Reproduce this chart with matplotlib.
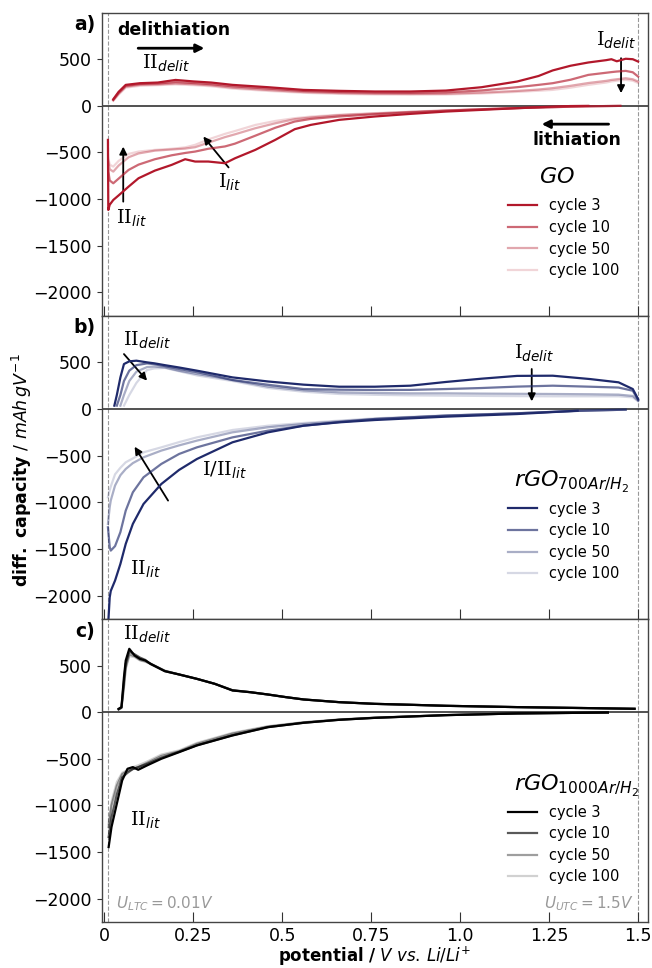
import numpy as np
import matplotlib
matplotlib.use("Agg")
import matplotlib.pyplot as plt

plt.rcParams['font.family'] = ['DejaVu Sans']
plt.rcParams['mathtext.fontset'] = 'custom'
plt.rcParams['mathtext.rm'] = 'DejaVu Sans'
plt.rcParams['mathtext.it'] = 'DejaVu Sans:italic'
plt.rcParams['mathtext.bf'] = 'DejaVu Sans:bold'
plt.rcParams['mathtext.sf'] = 'DejaVu Serif'

nan = np.nan
cycles = ["cycle 3", "cycle 10", "cycle 50", "cycle 100"]
alphas = [1.0, 0.65, 0.38, 0.18]

# ---------------- Panel a: GO ----------------
go_delit_x = [0.025, 0.04, 0.06, 0.10, 0.15, 0.20, 0.25, 0.30, 0.36, 0.46, 0.56, 0.66, 0.76, 0.86,
              0.96, 1.06, 1.16, 1.22, 1.26, 1.31, 1.36, 1.41, 1.425, 1.44, 1.465, 1.485, 1.50]
go_delit_c3 = [71, 150, 225, 243, 250, 278, 262, 250, 225, 200, 171, 161, 154, 154,
               164, 200, 261, 320, 380, 430, 465, 490, 500, 478, 505, 500, 475]
go_delit_c10 = [65, 140, 215, 235, 240, 255, 245, 232, 210, 185, 160, 148, 142, 140,
                145, 165, 200, 225, 243, 280, 332, 355, 362, 368, 375, 360, 314]
go_delit_c50 = [60, 130, 205, 225, 230, 240, 232, 220, 195, 170, 148, 137, 130, 128,
                130, 142, 160, 175, 190, 215, 245, 268, 278, 285, 296, 285, 260]
go_delit_c100 = [55, 120, 195, 215, 222, 230, 222, 210, 185, 160, 140, 128, 122, 120,
                 122, 132, 150, 162, 171, 195, 225, 250, 262, 270, 278, 270, 245]

go_lit_x = [0.010, 0.011, 0.015, 0.025, 0.04, 0.068, 0.096, 0.142, 0.189, 0.227, 0.255, 0.292, 0.339,
            0.367, 0.424, 0.48, 0.535, 0.58, 0.66, 0.76, 0.86, 0.96, 1.06, 1.16, 1.26, 1.31, 1.36, 1.45]
go_lit_c3 = [-365, -1116, -1060, -1009, -960, -866, -776, -694, -633, -572, -597, -597, -615,
             -562, -472, -365, -250, -204, -150, -114, -86, -61, -43, -25, -8, -2, 0, nan]
go_lit_c10 = [nan, -700, -800, -830, -780, -687, -630, -572, -530, -505, -490, -460, -435,
              -405, -320, -235, -168, -140, -114, -90, -70, -52, -37, -24, -14, -9, -5, 0]
go_lit_c50 = [nan, -600, -680, -705, -640, -551, -510, -480, -468, -458, -443, -395, -335,
              -305, -240, -187, -143, -125, -100, -82, -65, -50, -36, -24, -14, -9, -5, 0]
go_lit_c100 = [nan, -560, -630, -651, -590, -515, -490, -472, -460, -445, -418, -360, -300,
               -270, -205, -162, -132, -115, -95, -78, -62, -48, -35, -23, -13, -8, -4, 0]

# ---------------- Panel b: rGO 700 Ar/H2 ----------------
r7_delit_x = [0.028, 0.035, 0.045, 0.055, 0.07, 0.09, 0.12, 0.14, 0.17, 0.21, 0.26, 0.31, 0.36,
              0.46, 0.56, 0.66, 0.76, 0.86, 0.96, 1.06, 1.16, 1.26, 1.365, 1.445, 1.485, 1.50]
r7_delit_c3 = [36, 150, 339, 482, 511, 518, 500, 490, 470, 445, 411, 375, 339,
               295, 261, 239, 239, 250, 290, 325, 355, 357, 321, 286, 214, 107]
r7_delit_c10 = [nan, 36, 150, 300, 411, 470, 489, 480, 460, 430, 395, 355, 311,
                260, 214, 207, 204, 205, 214, 225, 240, 250, 239, 230, 196, 96]
r7_delit_c50 = [nan, nan, 36, 150, 300, 400, 450, 455, 445, 410, 375, 345, 310,
                240, 200, 179, 172, 168, 168, 165, 163, 161, 158, 154, 140, 89]
r7_delit_c100 = [nan, nan, nan, 36, 150, 280, 418, 435, 440, 405, 360, 330, 300,
                 225, 185, 161, 152, 146, 143, 140, 138, 136, 136, 136, 125, 82]

r7_lit_x = [0.010, 0.015, 0.018, 0.03, 0.045, 0.06, 0.08, 0.11, 0.16, 0.21, 0.26, 0.36, 0.46,
            0.56, 0.66, 0.76, 0.96, 1.16, 1.33, 1.465]
r7_lit_c3 = [-2350, -2018, -1950, -1839, -1661, -1446, -1232, -1018, -804, -653, -536, -357, -250,
             -179, -143, -118, -82, -54, -18, nan]
r7_lit_c10 = [-1268, -1480, -1518, -1470, -1320, -1089, -893, -732, -589, -482, -411, -304, -232,
              -179, -140, -107, -71, -46, -20, -7]
r7_lit_c50 = [-1232, -1050, -980, -820, -710, -643, -580, -518, -446, -390, -339, -250, -196,
              -161, -132, -107, -71, -46, -20, -7]
r7_lit_c100 = [-946, -870, -830, -700, -630, -571, -530, -464, -411, -355, -304, -225, -179,
               -150, -125, -100, -68, -44, -20, -7]

# ---------------- Panel c: rGO 1000 Ar/H2 ----------------
r10_delit_x = [0.04, 0.048, 0.055, 0.06, 0.07, 0.085, 0.10, 0.115, 0.13, 0.17, 0.21, 0.26, 0.31,
               0.36, 0.41, 0.46, 0.51, 0.56, 0.66, 0.76, 0.86, 0.96, 1.16, 1.365, 1.49]
r10_delit_c3 = [36, 54, 375, 554, 679, 607, 571, 554, 518, 439, 404, 357, 304,
                232, 214, 189, 161, 136, 107, 89, 79, 68, 54, 43, 36]
r10_delit_c10 = [30, 50, 330, 520, 650, 620, 585, 560, 515, 440, 404, 357, 304,
                 235, 214, 189, 161, 136, 107, 89, 79, 68, 54, 43, 36]
r10_delit_c50 = [30, 45, 280, 480, 620, 600, 560, 545, 520, 445, 404, 357, 304,
                 235, 214, 189, 161, 136, 107, 89, 79, 68, 54, 43, 36]
r10_delit_c100 = [30, 45, 260, 460, 600, 590, 555, 540, 515, 440, 404, 357, 304,
                  235, 214, 189, 161, 136, 107, 89, 79, 68, 54, 43, 36]

r10_lit_x = [0.012, 0.02, 0.035, 0.05, 0.065, 0.08, 0.095, 0.12, 0.16, 0.21, 0.26, 0.36, 0.46,
             0.56, 0.66, 0.76, 0.96, 1.16, 1.415]
r10_lit_c3 = [-1446, -1232, -982, -732, -607, -589, -618, -571, -500, -429, -357, -250, -161,
              -114, -82, -61, -32, -14, -4]
r10_lit_c10 = [-1339, -1130, -880, -700, -650, -610, -590, -555, -490, -425, -355, -248, -160,
               -114, -82, -61, -32, -14, -4]
r10_lit_c50 = [-1232, -1000, -790, -665, -630, -610, -590, -545, -470, -420, -340, -230, -155,
               -110, -80, -60, -32, -14, -4]
r10_lit_c100 = [-1196, -960, -750, -650, -620, -590, -570, -530, -455, -410, -330, -222, -150,
                -108, -78, -58, -31, -14, -4]

x_ticks = [0, 0.25, 0.5, 0.75, 1.0, 1.25, 1.5]
x_ticklabels = ["0", "0.25", "0.5", "0.75", "1.0", "1.25", "1.5"]
y_ticks = [500, 0, -500, -1000, -1500, -2000]

panels = [
    dict(tag="a)", color="#b2182b", title=r"$GO$",
         dx=go_delit_x, dy=[go_delit_c3, go_delit_c10, go_delit_c50, go_delit_c100],
         lx=go_lit_x, ly=[go_lit_c3, go_lit_c10, go_lit_c50, go_lit_c100]),
    dict(tag="b)", color="#1f2a6b", title=r"$rGO_{700Ar/H_2}$",
         dx=r7_delit_x, dy=[r7_delit_c3, r7_delit_c10, r7_delit_c50, r7_delit_c100],
         lx=r7_lit_x, ly=[r7_lit_c3, r7_lit_c10, r7_lit_c50, r7_lit_c100]),
    dict(tag="c)", color="#000000", title=r"$rGO_{1000Ar/H_2}$",
         dx=r10_delit_x, dy=[r10_delit_c3, r10_delit_c10, r10_delit_c50, r10_delit_c100],
         lx=r10_lit_x, ly=[r10_lit_c3, r10_lit_c10, r10_lit_c50, r10_lit_c100]),
]

fig = plt.figure(figsize=(6.52, 9.68), dpi=100)
axes = fig.subplots(3, 1, sharex=True, gridspec_kw=dict(hspace=0))
fig.subplots_adjust(left=0.156, right=0.994, top=0.987, bottom=0.0475)

ann_fs = 14
arrow_kw = dict(arrowstyle='-|>', color='k', lw=1.3, mutation_scale=11, shrinkA=0, shrinkB=0)

for ax, p in zip(axes, panels):
    handles = []
    for i in range(4):
        h, = ax.plot(p["dx"], np.array(p["dy"][i], dtype=float), color=p["color"],
                     alpha=alphas[i], lw=1.6, label=cycles[i], zorder=5 - i)
        ax.plot(p["lx"], np.array(p["ly"][i], dtype=float), color=p["color"],
                alpha=alphas[i], lw=1.6, zorder=5 - i)
        handles.append(h)
    ax.axhline(0, color='#333333', lw=1.2, zorder=1)
    ax.axvline(0.01, color='#999999', lw=0.8, ls='--', zorder=0)
    ax.axvline(1.5, color='#999999', lw=0.8, ls='--', zorder=0)
    ax.set_xlim(-0.0075, 1.528)
    ax.set_ylim(-2250, 1000)
    ax.set_yticks(y_ticks)
    ax.set_xticks(x_ticks)
    ax.set_xticklabels(x_ticklabels)
    ax.tick_params(axis='y', labelsize=12.5, direction='out', length=3.5, color='#333333')
    ax.tick_params(axis='x', labelsize=12.5, direction='in', length=7, color='#333333')
    for s in ax.spines.values():
        s.set_color('#444444')
        s.set_linewidth(1.0)
    ax.text(-0.012, 0.96, p["tag"], transform=ax.transAxes, ha='right', va='center',
            fontsize=13.5, fontweight='bold')
    ax.text(1.152 if p["tag"] != "a)" else 1.222, -786 if p["tag"] != "a)" else -768,
            p["title"], fontsize=16, ha='left', va='center')
    ax.legend(handles=handles, loc='upper left', bbox_to_anchor=(1.118, -930),
              bbox_transform=ax.transData, frameon=False, fontsize=10.5,
              borderaxespad=0, labelspacing=0.45, handlelength=2.0, handletextpad=0.8)

a, b, c = axes
# panel a annotations
a.text(0.035, 814, "delithiation", fontsize=12.5, fontweight='bold', ha='left', va='center')
a.annotate('', xy=(0.281, 618), xytext=(0.095, 618),
           arrowprops=dict(arrowstyle='-|>', color='k', lw=2, mutation_scale=12, shrinkA=0, shrinkB=0))
a.text(0.105, 457, r"$\mathsf{II}_{delit}$", fontsize=ann_fs, ha='left', va='center')
a.text(1.383, 707, r"$\mathsf{I}_{delit}$", fontsize=ann_fs, ha='left', va='center')
a.annotate('', xy=(1.452, 136), xytext=(1.452, 511), arrowprops=arrow_kw)
a.text(1.202, -371, "lithiation", fontsize=12.5, fontweight='bold', ha='left', va='center')
a.annotate('', xy=(1.229, -196), xytext=(1.417, -196),
           arrowprops=dict(arrowstyle='-|>', color='k', lw=2, mutation_scale=12, shrinkA=0, shrinkB=0))
a.text(0.32, -820, r"$\mathsf{I}_{lit}$", fontsize=ann_fs, ha='left', va='center')
a.annotate('', xy=(0.278, -329), xytext=(0.349, -660), arrowprops=arrow_kw)
a.text(0.032, -1203, r"$\mathsf{II}_{lit}$", fontsize=ann_fs, ha='left', va='center')
a.annotate('', xy=(0.053, -437), xytext=(0.053, -1027), arrowprops=arrow_kw)

# panel b annotations
b.text(0.052, 739, r"$\mathsf{II}_{delit}$", fontsize=ann_fs, ha='left', va='center')
b.annotate('', xy=(0.120, 304), xytext=(0.055, 589), arrowprops=arrow_kw)
b.text(1.151, 596, r"$\mathsf{I}_{delit}$", fontsize=ann_fs, ha='left', va='center')
b.annotate('', xy=(1.201, 82), xytext=(1.201, 429), arrowprops=arrow_kw)
b.text(0.273, -653, r"$\mathsf{I/II}_{lit}$", fontsize=ann_fs, ha='left', va='center')
b.annotate('', xy=(0.085, -404), xytext=(0.179, -982), arrowprops=arrow_kw)
b.text(0.072, -1714, r"$\mathsf{II}_{lit}$", fontsize=ann_fs, ha='left', va='center')

# panel c annotations
c.text(0.052, 832, r"$\mathsf{II}_{delit}$", fontsize=ann_fs, ha='left', va='center')
c.text(0.072, -1161, r"$\mathsf{II}_{lit}$", fontsize=ann_fs, ha='left', va='center')
c.text(0.032, -2053, r"$U_{LTC} = 0.01V$", fontsize=11, color='#999999', ha='left', va='center')
c.text(1.487, -2053, r"$U_{UTC} = 1.5V$", fontsize=11, color='#999999', ha='right', va='center')

c.set_xlabel(r"$\mathbf{potential}$ $\mathbf{/}$ $V\ vs.\,Li/Li^{+}$", fontsize=12, labelpad=0)
fig.text(0.034, 0.514, r"$\mathbf{diff.\ capacity}$ / $mAh\,gV^{-1}$", rotation=90,
         ha='center', va='center', fontsize=12.5)

fig.savefig("out.png", dpi=100)
